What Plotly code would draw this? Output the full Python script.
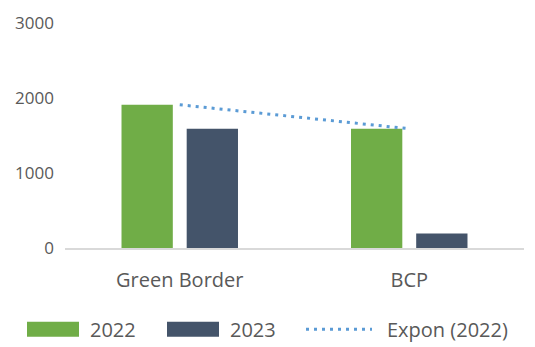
import numpy as np
import plotly.graph_objects as go

# Data
categories = ["Green Border", "BCP"]
values_2022 = [1910, 1590]
values_2023 = [1590, 195]
y_ticks = [0, 1000, 2000, 3000]

GREEN = "#70AD47"
NAVY = "#44546A"
BLUE = "#5B9BD5"
TEXT = "#595959"
FONT = "Open Sans"

# Exponential trendline fitted to the 2022 series (log-linear least squares)
x_idx = np.arange(1, len(categories) + 1)
slope, intercept = np.polyfit(x_idx, np.log(values_2022), 1)
trend_2022 = np.exp(intercept) * np.exp(slope * x_idx)

fig = go.Figure()
fig.add_trace(go.Bar(x=categories, y=values_2022, name="2022",
                     marker=dict(color=GREEN, line=dict(width=0))))
fig.add_trace(go.Bar(x=categories, y=values_2023, name="2023",
                     marker=dict(color=NAVY, line=dict(width=0))))
fig.add_trace(go.Scatter(x=categories, y=trend_2022, name="Expon (2022)",
                         mode="lines",
                         line=dict(color=BLUE, width=3, dash="3px,5px")))

# Plot area in pixels
L, R, T, B = 65, 524, 21, 248
W, H = 535, 347

fig.update_layout(
    width=W, height=H,
    margin=dict(l=L, r=W - R, t=T, b=H - B),
    paper_bgcolor="white", plot_bgcolor="white",
    barmode="group", bargap=0.432, bargroupgap=0.213,
    showlegend=False,
    font=dict(family=FONT, color=TEXT, size=17),
)
fig.update_xaxes(
    showgrid=False, showline=True, linecolor="#D9D9D9", linewidth=2,
    ticks="", tickfont=dict(size=20, color=TEXT), ticklabelstandoff=13,
)
fig.update_yaxes(
    range=[0, 3000], tickvals=y_ticks, showgrid=False, zeroline=False,
    showline=False, ticks="", tickfont=dict(size=17, color=TEXT),
    ticklabelstandoff=10,
)

# Legend drawn with wide swatches below the plot
legend_y = 330
def px_x(v):
    return (v - L) / (R - L)
def px_y(v):
    return (B - v) / (B - T)

swatches = [(27, 79, GREEN, "2022", 88), (167, 219, NAVY, "2023", 228)]
for x0, x1, col, label, tx in swatches:
    fig.add_shape(type="rect", xref="paper", yref="paper",
                  x0=px_x(x0), x1=px_x(x1),
                  y0=px_y(legend_y + 7.5), y1=px_y(legend_y - 7.5),
                  fillcolor=col, line=dict(width=0))
    fig.add_annotation(xref="paper", yref="paper", x=px_x(tx), y=px_y(legend_y),
                       text=label, showarrow=False, xanchor="left", yanchor="middle",
                       font=dict(size=20, color=TEXT, family=FONT))

fig.add_shape(type="line", xref="paper", yref="paper",
              x0=px_x(306), x1=px_x(372), y0=px_y(legend_y), y1=px_y(legend_y),
              line=dict(color=BLUE, width=3, dash="3px,5px"))
fig.add_annotation(xref="paper", yref="paper", x=px_x(385), y=px_y(legend_y),
                   text="Expon (2022)", showarrow=False, xanchor="left", yanchor="middle",
                   font=dict(size=20, color=TEXT, family=FONT))

fig.write_html("out.html")
